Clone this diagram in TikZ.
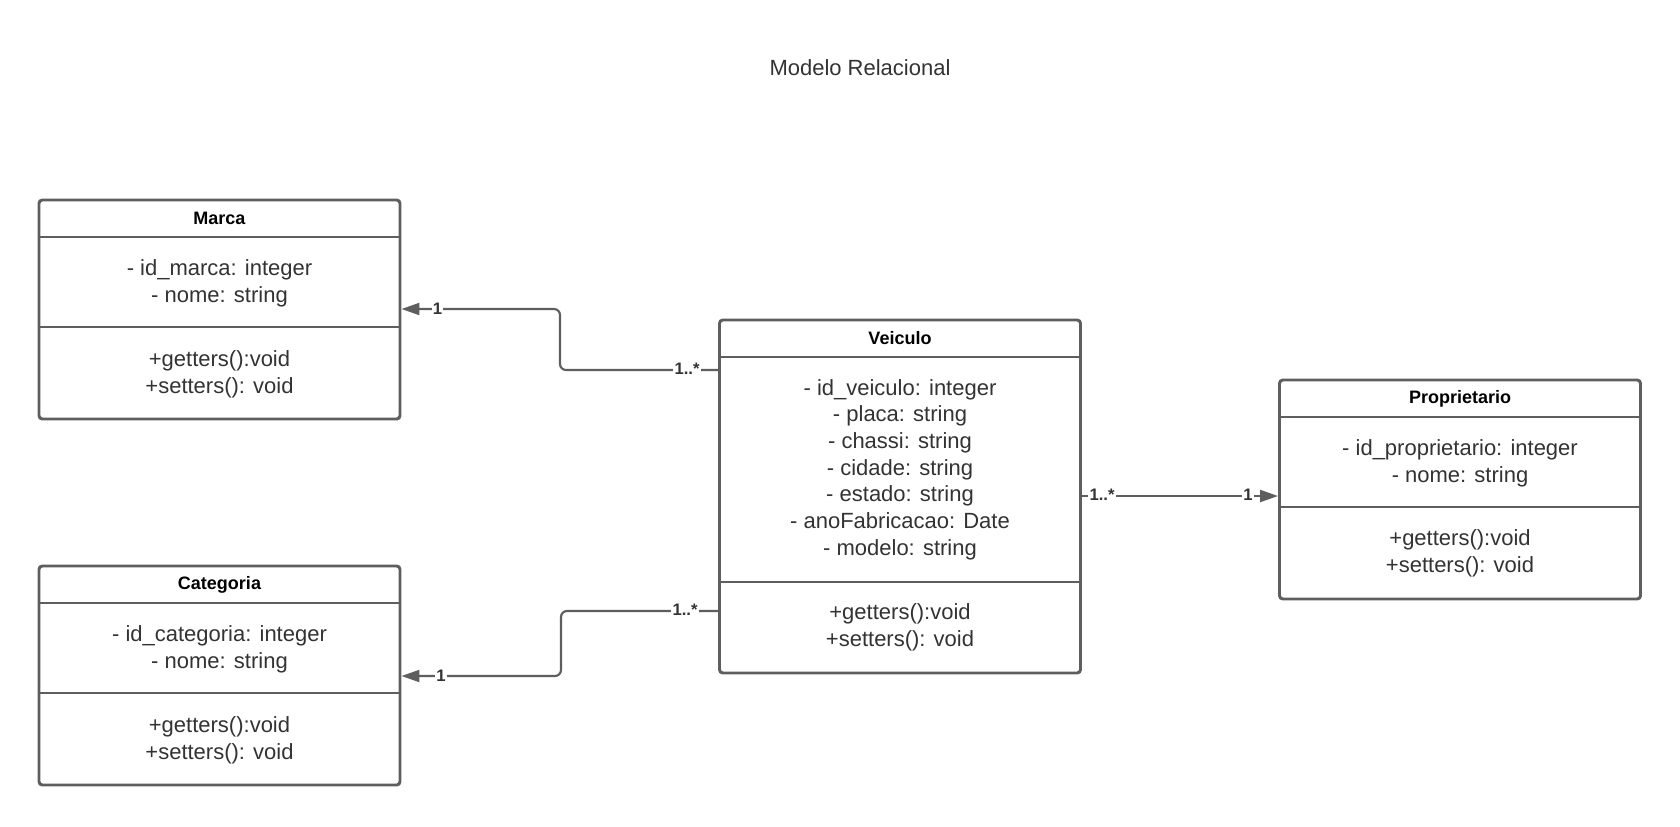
\documentclass[tikz,border=0pt]{standalone}
\usepackage{fontspec}
\setmainfont{Liberation Sans}
\usetikzlibrary{arrows.meta}
\definecolor{linec}{HTML}{5E5E5E}
\definecolor{txt}{HTML}{333333}
\tikzset{
 classbox/.style={draw=linec, line width=2.2pt, rounded corners=2.5pt, minimum width=270.75pt, inner sep=0pt},
 divider/.style={draw=linec, line width=2.2pt},
 ctitle/.style={font=\fontsize{13.5}{16}\selectfont\bfseries, text=black},
 body/.style={font=\fontsize{16.5}{20}\selectfont, text=txt, align=center, inner sep=0pt},
 conn/.style={draw=linec, line width=1.6pt, rounded corners=4.5pt},
 mult/.style={font=\fontsize{12.5}{14}\selectfont\bfseries, text=txt, fill=white, inner sep=1pt},
 tip/.style={-{Triangle[length=13.5pt,width=9pt]}}
}
\begin{document}
\begin{tikzpicture}[x=0.75pt,y=-0.75pt]
\useasboundingbox[fill=white] (0,0) rectangle (1680,826);

\node[font=\fontsize{16.5}{19}\selectfont, text=txt] (title) at (860,67.5) {Modelo Relacional};

% Marca
\node[classbox, minimum height=164.25pt] (marca) at (219.5,309.5) {};
\draw[divider] (marca.west |- 0,237) -- (marca.east |- 0,237);
\draw[divider] (marca.west |- 0,327) -- (marca.east |- 0,327);
\node[ctitle] (marcaT) at (219.5,218.5) {Marca};
\node[body] (marcaA) at (219.5,283) {- id\_marca: integer\\- nome: string};
\node[body] (marcaM) at (219.5,374) {+getters():void\\+setters(): void};

% Categoria
\node[classbox, minimum height=164.25pt] (cat) at (219.5,675.5) {};
\draw[divider] (cat.west |- 0,603) -- (cat.east |- 0,603);
\node[ctitle] (catT) at (219.5,584.5) {Categoria};
\draw[divider] (cat.west |- 0,693) -- (cat.east |- 0,693);
\node[body] (catA) at (219.5,649.5) {- id\_categoria: integer\\- nome: string};
\node[body] (catM) at (219.5,740) {+getters():void\\+setters(): void};

% Veiculo
\node[classbox, minimum height=264.75pt] (veic) at (900,496.5) {};
\draw[divider] (veic.west |- 0,357) -- (veic.east |- 0,357);
\draw[divider] (veic.west |- 0,582) -- (veic.east |- 0,582);
\node[ctitle] (veicT) at (900,338.5) {Veiculo};
\node[body] (veicA) at (900,469.5) {- id\_veiculo: integer\\- placa: string\\- chassi: string\\- cidade: string\\- estado: string\\- anoFabricacao: Date\\- modelo: string};
\node[body] (veicM) at (900,627) {+getters():void\\+setters(): void};

% Proprietario
\node[classbox, minimum height=164.25pt] (prop) at (1460,489.5) {};
\draw[divider] (prop.west |- 0,417) -- (prop.east |- 0,417);
\draw[divider] (prop.west |- 0,507) -- (prop.east |- 0,507);
\node[ctitle] (propT) at (1460,398.5) {Proprietario};
\node[body] (propA) at (1460,463) {- id\_proprietario: integer\\- nome: string};
\node[body] (propM) at (1460,553) {+getters():void\\+setters(): void};

% Connectors
\draw[conn,tip] (veic.west |- 0,370) -- (560,370) -- (560,309) -- (marca.east |- 0,309);
\node[mult] (m1a) at (687,369) {1..*};
\node[mult] (m1b) at (437.5,309) {1};

\draw[conn,tip] (veic.west |- 0,611) -- (561,611) -- (561,676) -- (cat.east |- 0,676);
\node[mult] (m2a) at (685,610) {1..*};
\node[mult] (m2b) at (441,676) {1};

\draw[conn,tip] (veic.east |- 0,496) -- (prop.west |- 0,496);
\node[mult] (m3a) at (1102,495) {1..*};
\node[mult] (m3b) at (1248,495) {1};
\end{tikzpicture}
\end{document}
